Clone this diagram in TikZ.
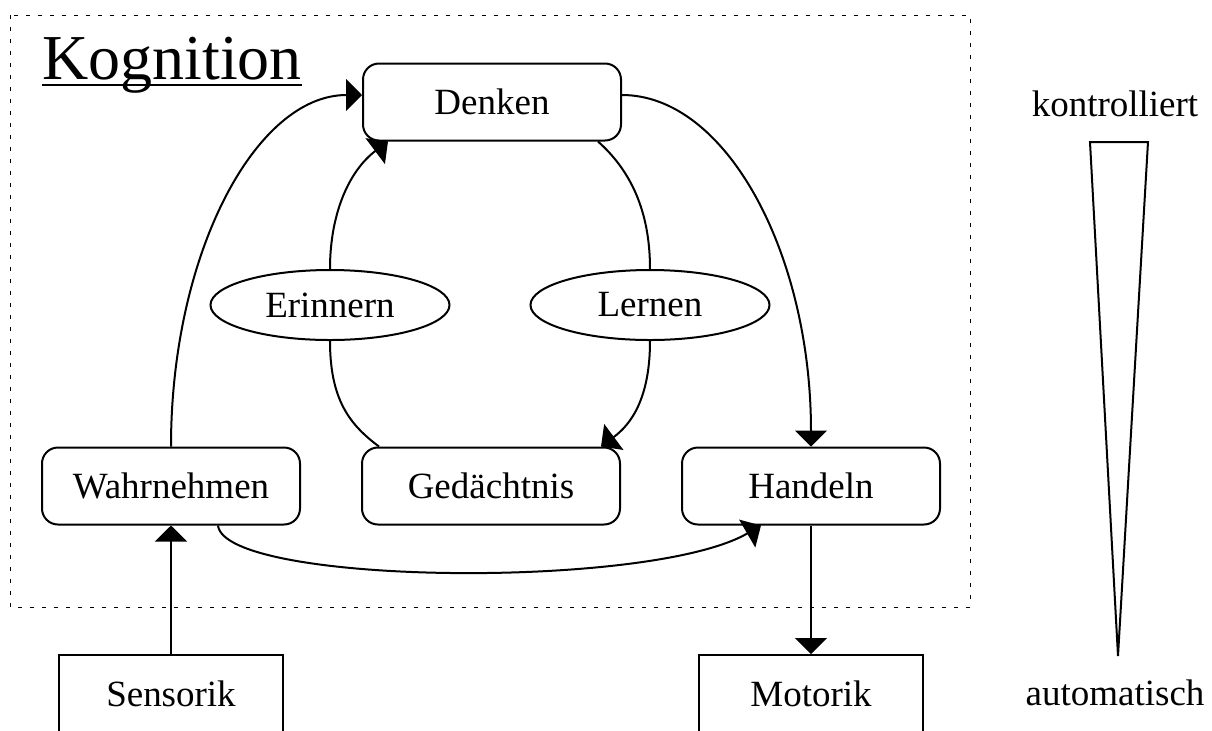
\documentclass[tikz,border=0pt]{standalone}
\usepackage{fontspec}
\setmainfont{Liberation Serif}
\usetikzlibrary{arrows.meta,shapes.geometric}

\begin{document}
\begin{tikzpicture}[x=0.5pt,y=-0.5pt,
  every node/.style={font=\fontsize{18.5}{22}\selectfont},
  stage/.style={draw,line width=1pt,rounded corners=8pt,minimum width=129pt,minimum height=38.5pt,inner sep=0pt},
  oval/.style={draw,ellipse,line width=1pt,minimum width=119.5pt,minimum height=35pt,inner sep=0pt},
  organ/.style={draw,line width=1pt,minimum width=112pt,minimum height=39pt,inner sep=0pt},
  link/.style={line width=1pt},
  arr/.style={link,-{Triangle[length=8pt,width=16pt]}},
  frame/.style={line width=0.5pt,dash pattern=on 2pt off 4pt}]

% page area
\clip (0,0) rectangle (1212,730);

% cognition frame and title
\draw[frame] (10,15) rectangle (970,607);
\node[anchor=base west,inner sep=0pt,font=\fontsize{32}{38}\selectfont] (title) at (42,79) {Kognition};
\draw[line width=1pt] ([yshift=-3pt]title.base west) -- ([yshift=-3pt]title.base east);

% stages
\node[stage] (denken) at (492,102) {Denken};
\node[stage] (wahr) at (171,486) {Wahrnehmen};
\node[stage] (ged) at (491,486) {Gedächtnis};
\node[stage] (hand) at (811,486) {Handeln};
\node[oval] (erin) at (330,305) {Erinnern};
\node[oval] (lern) at (650,305) {Lernen};
\node[organ] (sens) at (171,694) {Sensorik};
\node[organ] (mot) at (811,694) {Motorik};

% outer loop (quarter-ellipse arcs)
\draw[arr] (wahr.north) .. controls (171,253) and (256,95) .. ([yshift=3.5pt]denken.west);
\draw[arr] ([yshift=3.5pt]denken.east) .. controls (726,95) and (811,253) .. (hand.north);
\draw[arr] ([xshift=23.5pt]wahr.south) .. controls (225,585) and (650,590) .. ([xshift=40pt]hand.south west);

% inner loop
\draw[arr] (erin.north) .. controls (330,212) and (350,170) .. ([xshift=13pt]denken.south west);
\draw[link] ([xshift=-12pt]denken.south east) .. controls (630,170) and (650,210) .. (lern.north);
\draw[arr] (lern.south) .. controls (650,400) and (630,425) .. ([xshift=-10pt]ged.north east);
\draw[link] (erin.south) .. controls (330,400) and (350,425) .. ([xshift=9pt]ged.north west);

% periphery
\draw[arr] (sens.north) -- (wahr.south);
\draw[arr] (hand.south) -- (mot.north);

% control scale
\draw[line width=1pt] (1090,142) -- (1148,142) -- (1118,656) -- cycle;
\node (ctrl) at (1115,104) {kontrolliert};
\node (auto) at (1115,693) {automatisch};
\end{tikzpicture}
\end{document}
